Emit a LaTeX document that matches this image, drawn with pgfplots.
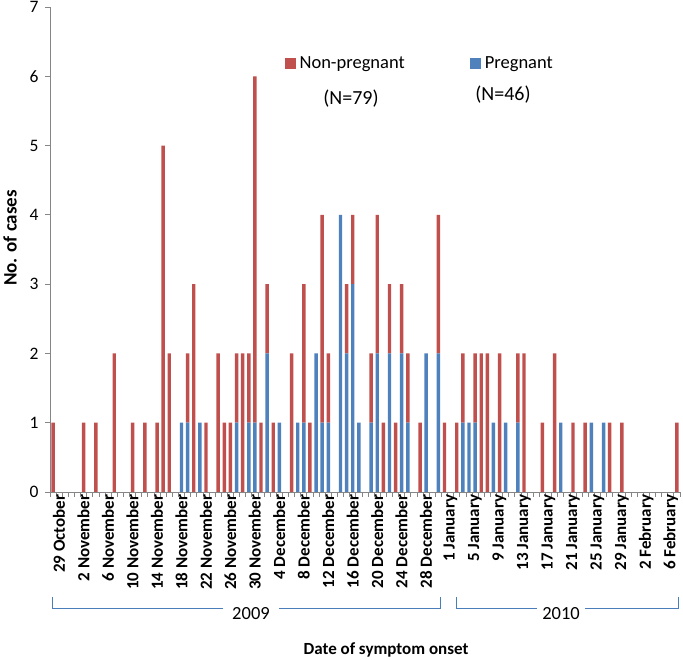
\documentclass[border=0pt]{standalone}
\usepackage{pgfplots}
\pgfplotsset{compat=1.18}
\usepackage{pgfplotstable}
\usepackage{fontspec}
\setmainfont{Carlito}
\definecolor{npred}{HTML}{C0504D}
\definecolor{pblue}{HTML}{4F81BD}
\definecolor{axgray}{HTML}{868686}
\definecolor{brk}{HTML}{4A7EBB}

\pgfplotstableread{
d p n
0 0 1
1 0 0
2 0 0
3 0 0
4 0 0
5 0 1
6 0 0
7 0 1
8 0 0
9 0 0
10 0 2
11 0 0
12 0 0
13 0 1
14 0 0
15 0 1
16 0 0
17 0 1
18 0 5
19 0 2
20 0 0
21 1 0
22 1 1
23 0 3
24 1 0
25 0 1
26 0 0
27 0 2
28 0 1
29 0 1
30 1 1
31 0 2
32 1 1
33 1 5
34 0 1
35 2 1
36 0 1
37 1 0
38 0 0
39 0 2
40 1 0
41 1 2
42 0 1
43 2 0
44 1 3
45 1 1
46 0 0
47 4 0
48 2 1
49 3 1
50 1 0
51 0 0
52 1 1
53 2 2
54 0 1
55 2 1
56 0 1
57 2 1
58 1 1
59 0 0
60 0 1
61 2 0
62 0 0
63 2 2
64 0 1
65 0 0
66 0 1
67 1 1
68 1 0
69 1 1
70 0 2
71 0 2
72 1 0
73 0 2
74 1 0
75 0 0
76 1 1
77 0 2
78 0 0
79 0 0
80 0 1
81 0 0
82 0 2
83 1 0
84 0 0
85 0 1
86 0 0
87 0 1
88 1 0
89 0 0
90 1 0
91 0 1
92 0 0
93 0 1
94 0 0
95 0 0
96 0 0
97 0 0
98 0 0
99 0 0
100 0 0
101 0 0
102 0 1
}\onsetdata

\begin{document}
\begin{tikzpicture}[x=1pt,y=1pt]
\useasboundingbox (0,0) rectangle (683,660);
\begin{axis}[
  at={(50pt,168pt)}, anchor=south west,
  scale only axis, width=630pt, height=485pt,
  xmin=-0.5, xmax=102.5, ymin=0, ymax=7,
  enlargelimits=false,
  ybar stacked, bar width=0.56,
  axis x line*=bottom, axis y line*=left,
  axis line style={draw=axgray, line width=0.8pt, -},
  tick align=outside,
  major tick length=5pt,
  tick style={draw=axgray, line width=0.8pt},
  xtick={-0.5,0.5,...,102.5}, xticklabels={},
  extra x ticks={0,4,...,100},
  extra x tick labels={29 October, 2 November, 6 November, 10 November, 14 November, 18 November, 22 November, 26 November, 30 November, 4 December, 8 December, 12 December, 16 December, 20 December, 24 December, 28 December, 1 January, 5 January, 9 January, 13 January, 17 January, 21 January, 25 January, 29 January, 2 February, 6 February},
  extra x tick style={major tick length=0pt, tick label style={rotate=90, anchor=east, font=\bfseries\fontsize{17}{19}\selectfont, yshift=-6pt, xshift=1pt}},
  ytick={0,...,7},
  yticklabel style={font=\fontsize{17.5}{20}\selectfont, xshift=-3pt},
  /pgf/number format/assume math mode=true,
  legend style={at={(0.372,0.883)}, anchor=west, draw=none, fill=none,
    font=\fontsize{18.5}{21}\selectfont, inner sep=0pt,
    /tikz/every odd column/.append style={column sep=2pt},
    /tikz/every even column/.append style={column sep=63pt}},
  legend columns=2,
  legend cell align=left,
]
\addplot[fill=pblue, draw=none, forget plot] table[x=d,y=p]{\onsetdata};
\addplot[fill=npred, draw=none, forget plot] table[x=d,y=n]{\onsetdata};
\addlegendimage{fill=npred, draw=none, legend image code/.code={\fill[npred] (0pt,-5pt) rectangle (11pt,6pt);}}
\addlegendentry{Non-pregnant}
\addlegendimage{fill=pblue, draw=none, legend image code/.code={\fill[pblue] (0pt,-5pt) rectangle (11pt,6pt);}}
\addlegendentry{Pregnant}
\end{axis}
\node[font=\fontsize{20}{23}\selectfont] at (351,561) {(N=79)};
\node[font=\fontsize{20}{23}\selectfont] at (503,565) {(N=46)};
\node[rotate=90, font=\bfseries\fontsize{19}{22}\selectfont] at (10,422) {No. of cases};
\node[font=\bfseries\fontsize{17}{20}\selectfont] at (386,10) {Date of symptom onset};
\draw[brk, line width=1pt] (52,63) -- (52,51) -- (440,51) -- (440,63);
\draw[brk, line width=1pt] (456,63) -- (456,51) -- (678,51) -- (678,63);
\node[fill=white, inner xsep=9pt, inner ysep=1pt, font=\fontsize{18.5}{21}\selectfont] at (251,46) {2009};
\node[fill=white, inner xsep=5pt, inner ysep=1pt, font=\fontsize{18.5}{21}\selectfont] at (561,46) {2010};
\end{tikzpicture}
\end{document}
